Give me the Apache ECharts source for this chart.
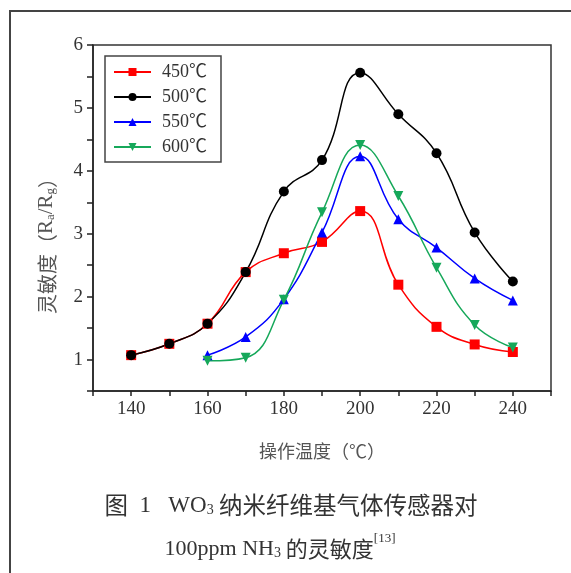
<!DOCTYPE html>
<html><head><meta charset="utf-8">
<script src="https://cdn.jsdelivr.net/npm/echarts@6/dist/echarts.min.js"></script>
<style>html,body{margin:0;padding:0;background:#fff}#c{width:571px;height:573px}</style>
</head><body><div id="c"></div>
<script>
const temps = [140, 150, 160, 170, 180, 190, 200, 210, 220, 230, 240];
const temps2 = [160, 170, 180, 190, 200, 210, 220, 230, 240];
const s450 = [1.07, 1.25, 1.57, 2.39, 2.69, 2.87, 3.36, 2.19, 1.52, 1.24, 1.12];
const s500 = [1.07, 1.25, 1.57, 2.39, 3.67, 4.17, 5.56, 4.90, 4.28, 3.02, 2.24];
const s550 = [1.07, 1.36, 1.96, 3.02, 4.23, 3.23, 2.78, 2.29, 1.94];
const s600 = [0.98, 1.03, 1.95, 3.34, 4.41, 3.60, 2.46, 1.55, 1.19];
const seriesNames = ['450℃', '500℃', '550℃', '600℃'];
const xTickLabels = [140, 160, 180, 200, 220, 240];
const yTickLabels = [1, 2, 3, 4, 5, 6];

const serif = "'Liberation Serif','Times New Roman','Noto Sans CJK SC',serif";
const cjk = "'Noto Sans CJK SC','Liberation Serif',sans-serif";
const pair = (xs, ys) => xs.map((x, i) => [x, ys[i]]);

const chart = echarts.init(document.getElementById('c'), null, {renderer: 'canvas'});
const mk = (name, xs, ys, color, symbol, rot, size) => ({
  name, type: 'line', data: pair(xs, ys), smooth: 0.45,
  symbol, symbolSize: size, symbolRotate: rot, showSymbol: true,
  lineStyle: {color, width: 1.5}, itemStyle: {color},
  emphasis: {disabled: true}, z: 3
});
const mkRich = (cs, rs) => ({
  c: {fontFamily: cjk, fontSize: cs, fill: '#333', lineHeight: 28, verticalAlign: 'bottom'},
  r: {fontFamily: serif, fontSize: rs, fill: '#333', lineHeight: 28, verticalAlign: 'bottom'},
  s: {fontFamily: serif, fontSize: 14, fill: '#333', lineHeight: 16, verticalAlign: 'bottom'},
  p: {fontFamily: serif, fontSize: 13, fill: '#333', lineHeight: 28, verticalAlign: 'top'}
});
chart.setOption({
  animation: false,
  backgroundColor: '#fff',
  grid: {left: 93, top: 45, width: 458, height: 346, show: true, borderColor: '#333', borderWidth: 1.5, containLabel: false},
  legend: {
    orient: 'vertical', left: 105, top: 56,
    padding: [6, 14, 5, 8], itemGap: 5, itemWidth: 37, itemHeight: 10,
    borderColor: '#444', borderWidth: 1.5,
    textStyle: {fontFamily: serif, fontSize: 18, lineHeight: 20, color: '#333', padding: [0, 0, 0, 6]},
    data: seriesNames.map(n => ({name: n}))
  },
  xAxis: {
    type: 'value', min: 130, max: 250, interval: 10,
    axisLine: {lineStyle: {color: '#222', width: 1.5}},
    axisTick: {show: true, inside: false, length: 5, lineStyle: {color: '#222', width: 1.5}},
    splitLine: {show: false},
    axisLabel: {fontFamily: serif, fontSize: 19, color: '#333', margin: 9,
      formatter: v => xTickLabels.includes(v) ? String(v) : ''},
    name: '操作温度（℃）', nameLocation: 'middle', nameGap: 51,
    nameTextStyle: {fontFamily: cjk, fontSize: 18, color: '#555'}
  },
  yAxis: {
    type: 'value', min: 0.5, max: 6, interval: 0.5,
    axisLine: {show: true, lineStyle: {color: '#222', width: 1.5}},
    axisTick: {show: true, inside: false, length: 6, lineStyle: {color: '#222', width: 1.5}},
    splitLine: {show: false},
    axisLabel: {fontFamily: serif, fontSize: 19, color: '#333', margin: 10,
      formatter: v => yTickLabels.includes(v) ? String(v) : ''}
  },
  series: [
    mk(seriesNames[0], temps, s450, '#ff0000', 'rect', 0, 10),
    mk(seriesNames[1], temps, s500, '#000000', 'circle', 0, 10),
    mk(seriesNames[2], temps2, s550, '#0000ff', 'triangle', 0, 10),
    mk(seriesNames[3], temps2, s600, '#16a85a', 'triangle', 180, 10)
  ],
  graphic: [
    {type: 'polyline', shape: {points: [[10, 580], [10, 11], [580, 11]]}, style: {stroke: '#444', lineWidth: 2, fill: null}, silent: true},
    {type: 'text', x: 45, y: 241, rotation: Math.PI / 2, silent: true, style: {
      text: '{c|灵敏度（}{r|R}{s|a}{r|/R}{s|g}{c|）}', align: 'center', verticalAlign: 'middle',
      rich: {
        c: {fontFamily: cjk, fontSize: 20, fill: '#555', lineHeight: 24, verticalAlign: 'bottom'},
        r: {fontFamily: serif, fontSize: 21, fill: '#555', lineHeight: 24, verticalAlign: 'bottom'},
        s: {fontFamily: serif, fontSize: 13, fill: '#555', lineHeight: 15, verticalAlign: 'bottom'}
      }}},
    {type: 'text', x: 291, y: 503, silent: true, style: {
      text: '{c|图}{r|  1   WO}{s|3}{c| 纳米纤维基气体传感器对}', align: 'center', verticalAlign: 'middle',
      rich: mkRich(23.5, 23)}},
    {type: 'text', x: 280, y: 546, silent: true, style: {
      text: '{r|100ppm NH}{s|3}{c| 的灵敏度}{p|[13]}', align: 'center', verticalAlign: 'middle',
      rich: mkRich(22, 22)}}
  ]
});
</script></body></html>
